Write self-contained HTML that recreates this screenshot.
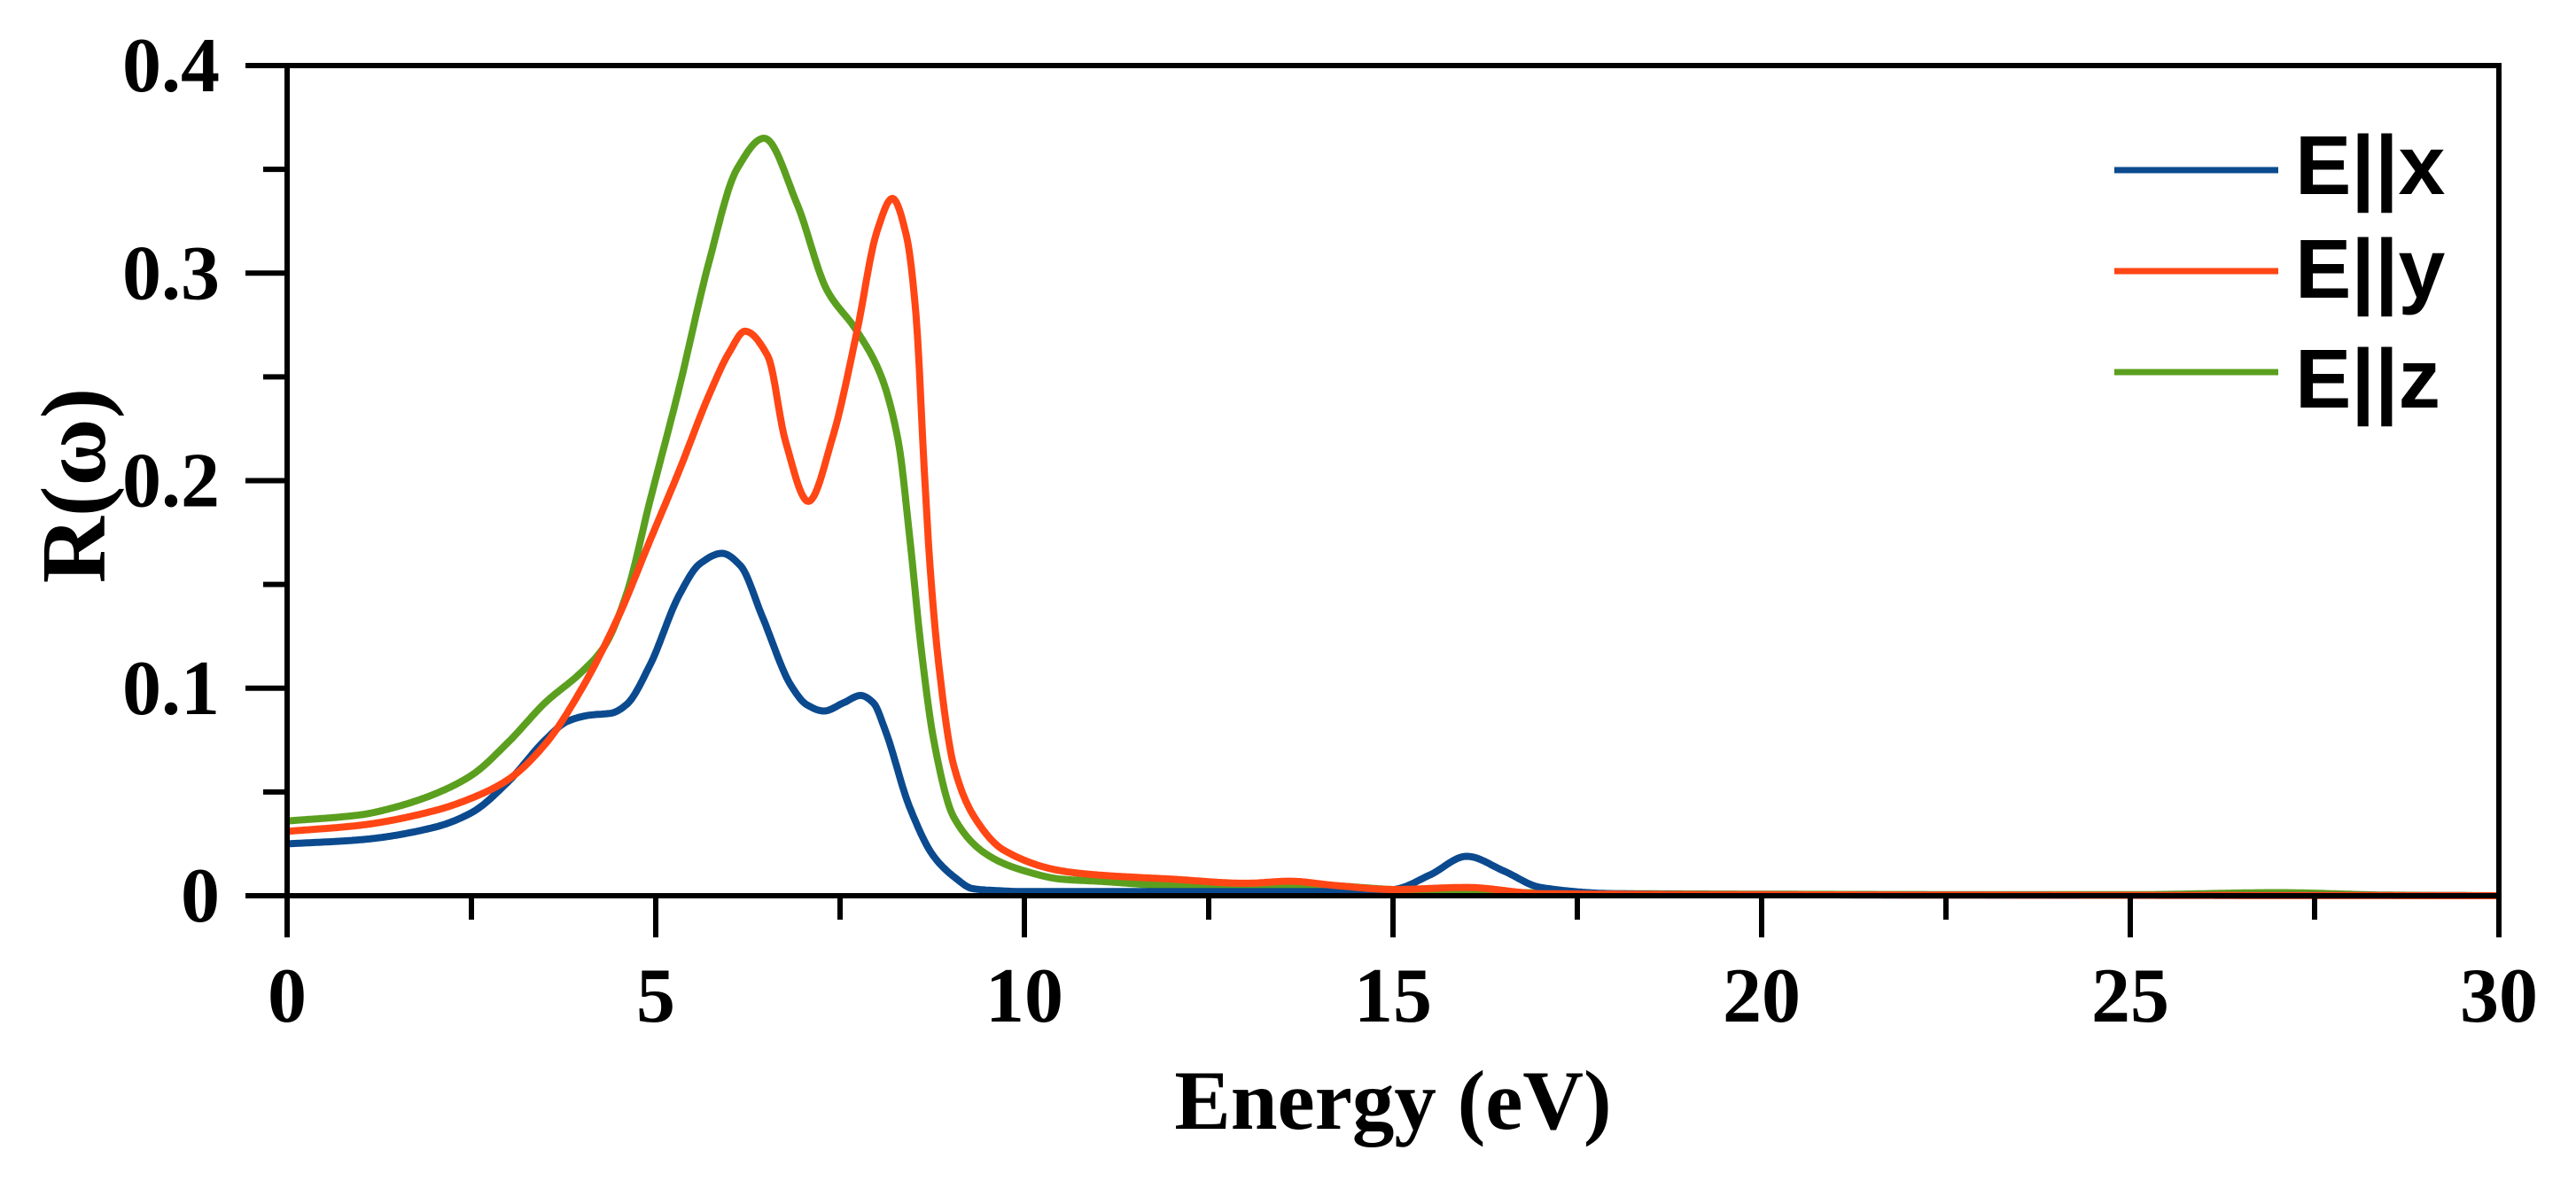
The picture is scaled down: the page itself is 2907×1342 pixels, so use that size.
<!DOCTYPE html>
<html><head><meta charset="utf-8"><style>
html,body{margin:0;padding:0;background:#fff;}
svg{display:block;}
</style></head><body>
<svg id="chart" width="2907" height="1342" viewBox="0 0 2907 1342" xmlns="http://www.w3.org/2000/svg">
<g id="series"></g>
<g id="axes"></g>
<text x="1572" y="1274" text-anchor="middle" font-family="Liberation Serif, serif" font-weight="bold" font-size="95">Energy (eV)</text>
<text transform="translate(118,548) rotate(-90)" text-anchor="middle" font-family="Liberation Serif, DejaVu Serif, serif" font-weight="bold" font-size="104">R(ω)</text>
<g font-family="Liberation Sans, sans-serif" font-weight="bold" font-size="95">
  <line x1="2386" y1="192" x2="2571" y2="192" stroke="#0b4a8e" stroke-width="7"/>
  <text x="2590" y="219">E||x</text>
  <line x1="2386" y1="306" x2="2571" y2="306" stroke="#ff4614" stroke-width="7"/>
  <text x="2590" y="336">E||y</text>
  <line x1="2386" y1="420" x2="2571" y2="420" stroke="#5b9f1f" stroke-width="7"/>
  <text x="2590" y="460">E||z</text>
</g>
</svg>
<script>
const xTicks = [0, 5, 10, 15, 20, 25, 30];
const yTicks = [0, 0.1, 0.2, 0.3, 0.4];
const yTickLabels = ["0", "0.1", "0.2", "0.3", "0.4"];
const energyX = [0,1,2,2.5,3,3.5,3.8,4.1,4.4,4.6,4.92,5.32,5.6,5.9,6.15,6.44,6.84,7.05,7.28,7.55,7.78,7.95,8.12,8.44,8.77,9.05,9.3,9.6,10,11,12,14,15,15.5,16,16.5,17,18,20,30];
const seriesX = [0.025,0.027,0.033,0.040,0.055,0.075,0.084,0.087,0.088,0.092,0.111,0.145,0.160,0.165,0.159,0.135,0.101,0.092,0.089,0.093,0.0965,0.093,0.079,0.043,0.019,0.009,0.0034,0.0025,0.002,0.002,0.002,0.002,0.003,0.01,0.019,0.012,0.004,0.001,0.0005,0];
const energyY = [0,1,2,2.5,3,3.5,4,4.5,4.92,5.32,5.72,6.0,6.21,6.52,6.76,7.07,7.4,7.73,8.0,8.21,8.4,8.53,8.64,8.72,8.84,9.04,9.32,9.72,10.5,11,12,13,13.6,14.2,15,16,17,20,30];
const seriesY = [0.031,0.034,0.041,0.047,0.056,0.073,0.1,0.135,0.171,0.205,0.241,0.262,0.272,0.26,0.219,0.190,0.221,0.272,0.32,0.336,0.318,0.280,0.207,0.159,0.111,0.063,0.038,0.022,0.012,0.010,0.008,0.006,0.007,0.005,0.003,0.004,0.001,0.0005,0];
const energyZ = [0,1,1.5,2,2.5,3,3.5,4,4.3,4.6,4.92,5.32,5.72,6.1,6.47,6.92,7.32,7.73,8.05,8.29,8.45,8.61,8.77,9.04,9.53,10,10.5,11,12,13,14,15,16,18,25,27,28.5,30];
const seriesZ = [0.036,0.039,0.043,0.049,0.058,0.074,0.093,0.108,0.12,0.145,0.19,0.245,0.305,0.35,0.365,0.333,0.292,0.272,0.251,0.219,0.171,0.116,0.075,0.038,0.019,0.012,0.008,0.007,0.005,0.005,0.005,0.003,0.002,0.001,0.0005,0.0015,0.0003,0];

const X0 = 324, X1 = 2820, Y0 = 1011, Y1 = 74;
const sx = v => X0 + (v - 0) / 30 * (X1 - X0);
const sy = v => Y0 - v / 0.4 * (Y0 - Y1);
const NS = "http://www.w3.org/2000/svg";
function mk(tag, attrs, parent){ const e = document.createElementNS(NS, tag); for (const k in attrs) e.setAttribute(k, attrs[k]); parent.appendChild(e); return e; }

// monotone cubic (Fritsch-Carlson) interpolation, sampled densely
function pathFrom(xs, ys){
  const n = xs.length, d = [], m = new Array(n);
  for (let i=0;i<n-1;i++) d.push((ys[i+1]-ys[i])/(xs[i+1]-xs[i]));
  m[0] = d[0]; m[n-1] = d[n-2];
  for (let i=1;i<n-1;i++){
    if (d[i-1]*d[i] <= 0) m[i] = 0;
    else {
      const h0 = xs[i]-xs[i-1], h1 = xs[i+1]-xs[i];
      const w1 = 2*h1+h0, w2 = h1+2*h0;
      m[i] = (w1+w2)/(w1/d[i-1] + w2/d[i]);
    }
  }
  let out = "M" + sx(xs[0]).toFixed(1) + "," + sy(ys[0]).toFixed(1);
  for (let i=0;i<n-1;i++){
    const h = xs[i+1]-xs[i];
    const steps = Math.max(4, Math.ceil(h*40));
    for (let s=1;s<=steps;s++){
      const t = s/steps, t2=t*t, t3=t2*t;
      const v = (2*t3-3*t2+1)*ys[i] + (t3-2*t2+t)*h*m[i] + (-2*t3+3*t2)*ys[i+1] + (t3-t2)*h*m[i+1];
      out += " L" + sx(xs[i]+t*h).toFixed(1) + "," + sy(v).toFixed(1);
    }
  }
  return out;
}
const sg = document.getElementById('series');
const defs = [[energyZ, seriesZ, "#5b9f1f", "series-e-z"], [energyX, seriesX, "#0b4a8e", "series-e-x"], [energyY, seriesY, "#ff4614", "series-e-y"]];
defs.forEach(s => {
  const el = mk('path', {d: pathFrom(s[0], s[1]), fill: "none", stroke: s[2], "stroke-width": 8, "stroke-linejoin": "round"}, sg);
  
  
});

const ag = document.getElementById('axes');
const frame = mk('path', {d: `M${X0},${Y1} H${X1} V${Y0} H${X0} Z`, fill: "none", stroke: "#000", "stroke-width": 6}, ag);


xTicks.forEach((t, i) => {
  const tk = mk('line', {x1: sx(t), x2: sx(t), y1: Y0, y2: Y0 + 47, stroke: "#000", "stroke-width": 6}, ag);
  
  
  const lb = mk('text', {x: sx(t), y: 1153, "text-anchor": "middle", "font-family": "Liberation Serif, serif", "font-weight": "bold", "font-size": 88}, ag);
  lb.textContent = String(t);
  
  
  if (i < xTicks.length - 1) {
    const m = mk('line', {x1: sx(t + 2.5), x2: sx(t + 2.5), y1: Y0, y2: Y0 + 27, stroke: "#000", "stroke-width": 6}, ag);
    
    
  }
});
yTicks.forEach((t, i) => {
  const tk = mk('line', {x1: X0 - 47, x2: X0, y1: sy(t), y2: sy(t), stroke: "#000", "stroke-width": 6}, ag);
  
  
  const lb = mk('text', {x: 248, y: sy(t) + 29, "text-anchor": "end", "font-family": "Liberation Serif, serif", "font-weight": "bold", "font-size": 88}, ag);
  lb.textContent = yTickLabels[i];
  
  
  if (i < yTicks.length - 1) {
    const m = mk('line', {x1: X0 - 27, x2: X0, y1: sy(t + 0.05), y2: sy(t + 0.05), stroke: "#000", "stroke-width": 6}, ag);
    
    
  }
});
</script>
</body></html>
